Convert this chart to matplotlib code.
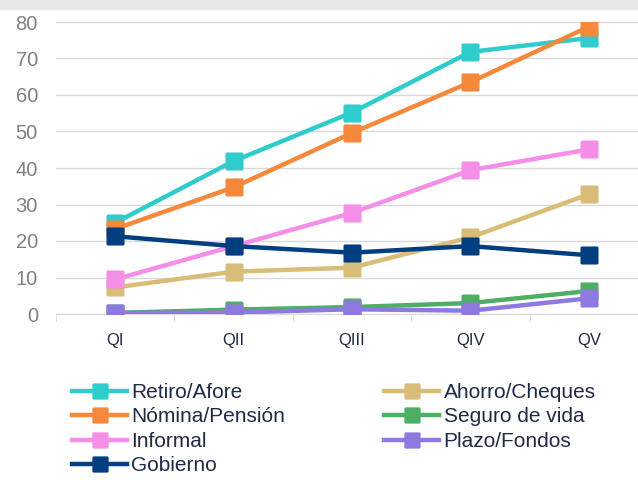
import numpy as np
import matplotlib.pyplot as plt
from matplotlib.patches import Rectangle
from matplotlib.path import Path

plt.rcParams['font.family'] = ['Liberation Sans', 'DejaVu Sans']

quarters = ['QI', 'QII', 'QIII', 'QIV', 'QV']

retiro = [25.0, 41.9, 55.2, 71.8, 75.6]
nomina = [23.3, 34.7, 49.6, 63.5, 78.7]
informal = [9.5, 18.6, 27.7, 39.4, 45.1]
gobierno = [21.3, 18.6, 16.8, 18.6, 16.1]
ahorro = [7.3, 11.6, 12.7, 21.0, 32.8]
seguro = [0.3, 1.2, 1.9, 3.0, 6.3]
plazo = [0.3, 0.4, 1.3, 0.9, 4.3]

colors = {
    'Retiro/Afore': '#2ecccb',
    'Nómina/Pensión': '#f5883a',
    'Informal': '#f58ee6',
    'Gobierno': '#003f7f',
    'Ahorro/Cheques': '#d8bc77',
    'Seguro de vida': '#4caf63',
    'Plazo/Fondos': '#8f78e0',
}
values = {
    'Retiro/Afore': retiro,
    'Nómina/Pensión': nomina,
    'Informal': informal,
    'Gobierno': gobierno,
    'Ahorro/Cheques': ahorro,
    'Seguro de vida': seguro,
    'Plazo/Fondos': plazo,
}
# drawing order (later on top), like the original workbook
draw_order = ['Retiro/Afore', 'Ahorro/Cheques', 'Nómina/Pensión', 'Seguro de vida',
              'Informal', 'Plazo/Fondos', 'Gobierno']
legend_order = ['Retiro/Afore', 'Nómina/Pensión', 'Informal', 'Gobierno',
                'Ahorro/Cheques', 'Seguro de vida', 'Plazo/Fondos']


# square marker with slightly rounded corners
def rounded_square(r=0.18, n=6):
    pts = []
    for cx, cy, a0 in [(1 - r, 1 - r, 0), (-1 + r, 1 - r, 90), (-1 + r, -1 + r, 180), (1 - r, -1 + r, 270)]:
        for a in np.linspace(a0, a0 + 90, n):
            t = np.radians(a)
            pts.append((cx + r * np.cos(t), cy + r * np.sin(t)))
    pts.append(pts[0])
    return Path(pts, closed=True)


rmark = rounded_square()

fig = plt.figure(figsize=(6.38, 4.8), dpi=100)
fig.patches.append(Rectangle((0, 1 - 9 / 480), 1, 9 / 480, transform=fig.transFigure,
                             color='#e8e8e8', zorder=0))
ax = fig.add_axes([56 / 638, 1 - 314 / 480, 592 / 638, 292 / 480])

x = np.arange(len(quarters))
lines = {}
for i, name in enumerate(draw_order):
    ln, = ax.plot(x, values[name], color=colors[name], linewidth=3.2, marker=rmark,
                  markersize=13, markeredgewidth=0, solid_joinstyle='round',
                  label=name, zorder=3 + i)
    lines[name] = ln

ax.set_xlim(-0.5, 4.5)
ax.set_ylim(0, 80)
ax.set_yticks(range(0, 81, 10))
ax.yaxis.grid(True, color='#d9d9d9', linewidth=1)
ax.set_axisbelow(True)
for s in ['top', 'right', 'left']:
    ax.spines[s].set_visible(False)
ax.spines['bottom'].set_color('#d9d9d9')
ax.spines['bottom'].set_zorder(0)

ax.set_xticks(x)
ax.set_xticklabels(quarters)
ax.set_xticks(np.arange(-0.5, 5, 1), minor=True)
ax.tick_params(axis='x', which='major', length=0, pad=14, labelsize=12, labelcolor='#1f2a44')
ax.tick_params(axis='x', which='minor', length=5, color='#d9d9d9')
ax.tick_params(axis='y', length=0, pad=13, labelsize=14.5, labelcolor='#808080')

fig.legend([lines[n] for n in legend_order], legend_order, ncol=2, loc='upper left',
           bbox_to_anchor=(72 / 638, 1 - 383 / 480), borderpad=0, borderaxespad=0,
           frameon=False, fontsize=15, handlelength=2.65, handletextpad=0.2,
           columnspacing=4.75, labelspacing=0.26, labelcolor='#1f2a44', markerscale=0.9)

fig.savefig('out.png', dpi=100)
